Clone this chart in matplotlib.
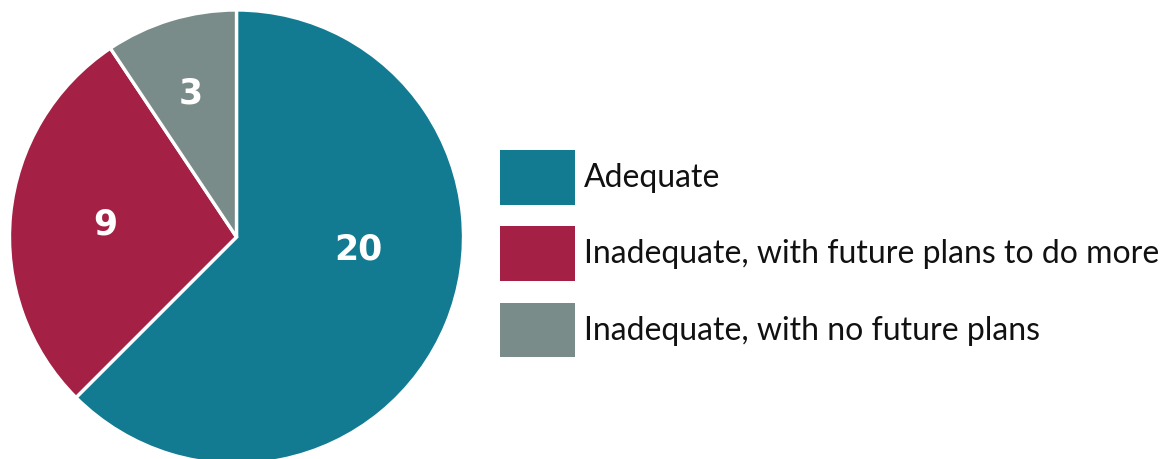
import numpy as np
import matplotlib
matplotlib.use("Agg")
import matplotlib.pyplot as plt
from matplotlib.patches import Patch

# Survey responses
categories = ["Adequate",
              "Inadequate, with future plans to do more",
              "Inadequate, with no future plans"]
counts = [20, 9, 3]
colors = ["#127B91", "#A52045", "#7A8C89"]

# where each count sits inside its wedge (fraction of radius, angle shift in degrees)
label_radius = [0.54, 0.58, 0.665]
label_shift = [16.5, 0.0, 0.8]

plt.rcParams['font.family'] = ['Lato', 'DejaVu Sans']

fig = plt.figure(figsize=(11.64, 4.59), dpi=100)
W, H = 1164, 459
cx, cy, R = 236.5, 237, 227
ax = fig.add_axes([(cx - R) / W, (H - cy - R) / H, 2 * R / W, 2 * R / H])

wedges, _ = ax.pie(counts, colors=colors, startangle=90, counterclock=False,
                   radius=1, wedgeprops=dict(edgecolor="white", linewidth=2.4))

for w, n, r, shift in zip(wedges, counts, label_radius, label_shift):
    mid = np.deg2rad((w.theta1 + w.theta2) / 2 + shift)
    ax.text(r * np.cos(mid), r * np.sin(mid), str(n), color="white",
            fontsize=25, fontweight="bold", family="DejaVu Sans",
            ha="center", va="center")

ax.set_xlim(-1, 1)
ax.set_ylim(-1, 1)
ax.set_aspect("equal")
ax.axis("off")

handles = [Patch(facecolor=c, edgecolor="none") for c in colors]
fs = 23
fig.legend(handles, categories, loc="upper left",
           bbox_to_anchor=(500 / W, 1 - 150 / H), frameon=False,
           fontsize=fs, handlelength=2.35, handleheight=2.25,
           labelspacing=0.68, handletextpad=0.28, borderpad=0, borderaxespad=0,
           labelcolor="#111111")

fig.savefig("out.png", dpi=100)
